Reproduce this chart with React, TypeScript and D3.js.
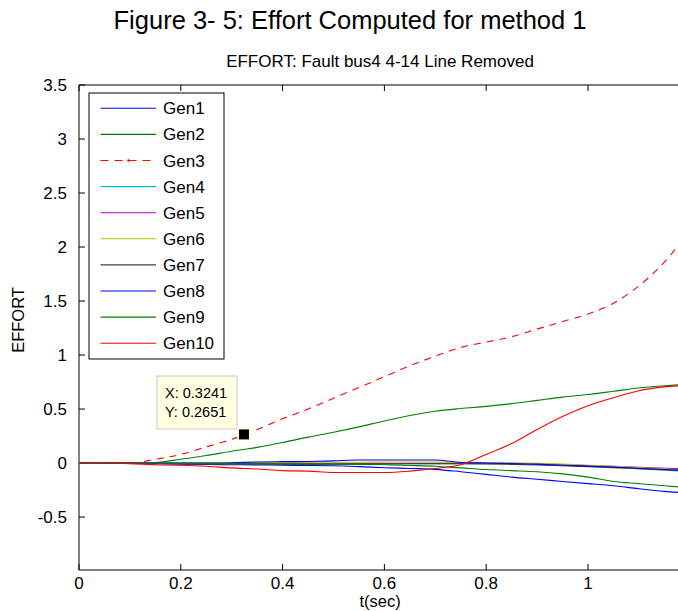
import React from 'react';
import * as d3 from 'd3';

// time samples (sec)
const T = [0, 0.05, 0.1, 0.15, 0.2, 0.25, 0.3, 0.35, 0.4, 0.45, 0.5, 0.55, 0.6, 0.65, 0.7, 0.75, 0.8, 0.85, 0.9, 0.95, 1.0, 1.05, 1.1, 1.15, 1.18];

const gen1 = [0, 0, 0, -0.005, -0.01, -0.013, -0.015, -0.017, -0.02, -0.022, -0.025, -0.033, -0.043, -0.05, -0.058, -0.08, -0.105, -0.13, -0.15, -0.17, -0.19, -0.21, -0.238, -0.262, -0.272];
const gen2 = [0, 0, 0, 0.005, 0.035, 0.07, 0.11, 0.145, 0.19, 0.24, 0.285, 0.335, 0.39, 0.44, 0.48, 0.505, 0.525, 0.55, 0.58, 0.61, 0.635, 0.665, 0.695, 0.715, 0.725];
const gen3 = [0, 0, 0, 0.035, 0.08, 0.15, 0.22, 0.31, 0.41, 0.5, 0.6, 0.7, 0.8, 0.9, 0.99, 1.07, 1.12, 1.17, 1.24, 1.31, 1.38, 1.48, 1.64, 1.86, 2.03];
const gen4 = [0, 0, 0, 0, -0.002, -0.004, -0.005, -0.006, -0.007, -0.008, -0.008, -0.008, -0.007, -0.006, -0.005, -0.005, -0.005, -0.008, -0.012, -0.02, -0.03, -0.04, -0.052, -0.066, -0.075];
const gen5 = [0, 0, 0, 0, -0.002, -0.003, -0.004, -0.005, -0.006, -0.006, -0.006, -0.005, -0.004, -0.003, -0.002, 0, 0, -0.003, -0.008, -0.015, -0.022, -0.03, -0.04, -0.048, -0.052];
const gen6 = [0, 0, 0, 0, 0, 0.002, 0.003, 0.004, 0.005, 0.006, 0.007, 0.008, 0.009, 0.01, 0.01, 0.008, 0.005, 0.002, -0.003, -0.01, -0.02, -0.03, -0.042, -0.055, -0.06];
const gen7 = [0, 0, 0, -0.003, -0.006, -0.009, -0.01, -0.011, -0.012, -0.012, -0.011, -0.01, -0.008, -0.006, -0.005, -0.006, -0.008, -0.012, -0.018, -0.025, -0.033, -0.042, -0.052, -0.062, -0.066];
const gen8 = [0, 0, 0, 0, 0, 0, 0.003, 0.01, 0.013, 0.015, 0.02, 0.028, 0.028, 0.028, 0.028, 0.005, 0, -0.005, -0.01, -0.02, -0.028, -0.038, -0.048, -0.06, -0.068];
const gen9 = [0, 0, 0, -0.002, -0.004, -0.005, -0.006, -0.007, -0.008, -0.008, -0.009, -0.01, -0.015, -0.022, -0.03, -0.045, -0.06, -0.07, -0.08, -0.1, -0.13, -0.17, -0.19, -0.21, -0.222];
const gen10 = [0, 0, -0.005, -0.015, -0.02, -0.03, -0.045, -0.055, -0.07, -0.075, -0.088, -0.088, -0.088, -0.075, -0.05, -0.015, 0.08, 0.18, 0.31, 0.43, 0.53, 0.605, 0.67, 0.705, 0.716];

const seriesNames = ['Gen1', 'Gen2', 'Gen3', 'Gen4', 'Gen5', 'Gen6', 'Gen7', 'Gen8', 'Gen9', 'Gen10'];
const seriesValues = [gen1, gen2, gen3, gen4, gen5, gen6, gen7, gen8, gen9, gen10];
const seriesColors = ['#0000ff', '#008000', '#ff0000', '#00bfbf', '#bf00bf', '#bfbf00', '#404040', '#0000ff', '#008000', '#ff0000'];
const seriesDashed = [false, false, true, false, false, false, false, false, false, false];

const xTicks = [0, 0.2, 0.4, 0.6, 0.8, 1];
const yTicks = [-0.5, 0, 0.5, 1, 1.5, 2, 2.5, 3, 3.5];

const datatipX = 0.3241;
const datatipY = 0.2651;

const FONT = 'Liberation Sans, Arial, Helvetica, sans-serif';

export default function App() {
  const W = 678;
  const H = 611;
  const left = 79;
  const right = 679.6;
  const top = 85;
  const bottom = 570;
  const x = d3.scaleLinear().domain([0, 1.18]).range([left, right]);
  const y = d3.scaleLinear().domain([-0.99, 3.5]).range([bottom, top]);

  const line = d3
    .line<number>()
    .x((_, i) => x(T[i]))
    .y((d) => y(d))
    .curve(d3.curveMonotoneX);

  const legX = 89;
  const legY = 93;
  const legW = 135;
  const legH = 266;
  const legStep = 26.1;

  const px = x(datatipX);
  const py = y(datatipY);

  return (
    <svg
      width={W}
      height={H}
      style={{ position: 'absolute', left: 0, top: 0, background: '#fff' }}
      fontFamily={FONT}
    >
      <rect x={0} y={0} width={W} height={H} fill="#fff" />
      <text x={350} y={28.5} fontSize={25.5} textAnchor="middle" fill="#000">
        Figure 3- 5: Effort Computed for method 1
      </text>
      <text x={380} y={66.5} fontSize={17} textAnchor="middle" fill="#000">
        EFFORT: Fault bus4 4-14 Line Removed
      </text>

      <defs>
        <clipPath id="plotclip">
          <rect x={left} y={top} width={right - left} height={bottom - top} />
        </clipPath>
      </defs>

      {/* axes box */}
      <line x1={left} x2={left} y1={top} y2={bottom} stroke="#000" strokeWidth={1} />
      <line x1={left} x2={W} y1={bottom} y2={bottom} stroke="#000" strokeWidth={1} />
      <line x1={left} x2={W} y1={top} y2={top} stroke="#000" strokeWidth={1} />

      {xTicks.map((t) => (
        <g key={'xt' + t}>
          <line x1={x(t)} x2={x(t)} y1={bottom} y2={bottom - 6} stroke="#000" />
          <line x1={x(t)} x2={x(t)} y1={top} y2={top + 6} stroke="#000" />
          <text x={x(t)} y={589} fontSize={17} textAnchor="middle" fill="#000">
            {String(t)}
          </text>
        </g>
      ))}
      {yTicks.map((v) => (
        <g key={'yt' + v}>
          <line x1={left} x2={left + 6} y1={y(v)} y2={y(v)} stroke="#000" />
          <text x={67} y={y(v) + 6} fontSize={17} textAnchor="end" fill="#000">
            {String(v)}
          </text>
        </g>
      ))}
      <text x={0} y={0} fontSize={16.5} textAnchor="middle" fill="#000" transform="translate(24,320) rotate(-90)">
        EFFORT
      </text>
      <text x={380} y={607} fontSize={16.5} textAnchor="middle" fill="#000">
        t(sec)
      </text>

      <g clipPath="url(#plotclip)">
        {seriesValues.map((vals, i) => (
          <path
            key={seriesNames[i]}
            d={line(vals) || ''}
            fill="none"
            stroke={seriesColors[i]}
            strokeWidth={1.1}
            strokeDasharray={seriesDashed[i] ? '7,6' : undefined}
          />
        ))}
      </g>

      {/* legend */}
      <rect x={legX} y={legY} width={legW} height={legH} fill="#fff" stroke="#000" strokeWidth={1} />
      {seriesNames.map((n, i) => {
        const ly = 108.3 + i * legStep;
        return (
          <g key={'lg' + n}>
            <line
              x1={100.5}
              x2={156}
              y1={ly}
              y2={ly}
              stroke={seriesColors[i]}
              strokeWidth={1.1}
              strokeDasharray={seriesDashed[i] ? '8,6' : undefined}
            />
            {seriesDashed[i] && <circle cx={128.5} cy={ly} r={1.3} fill={seriesColors[i]} />}
            <text x={163} y={ly + 6} fontSize={17} fill="#000">
              {n}
            </text>
          </g>
        );
      })}

      {/* datatip */}
      <rect x={157} y={376} width={80} height={53} fill="#ffffe1" stroke="#c8c8c8" strokeWidth={1} />
      <text x={165} y={398} fontSize={14.5} fill="#000">
        X: {datatipX}
      </text>
      <text x={165} y={417} fontSize={14.5} fill="#000">
        Y: {datatipY}
      </text>
      <rect x={px - 6} y={py - 6} width={12} height={12} fill="#000" stroke="#ffffe1" strokeWidth={2} />
    </svg>
  );
}
